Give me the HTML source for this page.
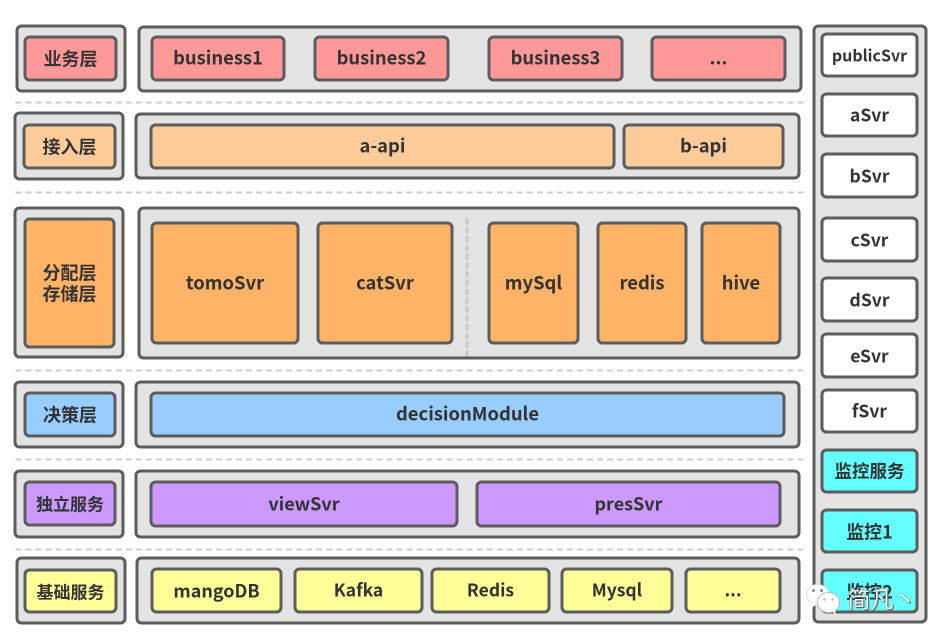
<!DOCTYPE html>
<html><head><meta charset="utf-8">
<style>
html,body{margin:0;padding:0;background:#fff}
body{position:relative;width:947px;height:641px;overflow:hidden;font-family:"Noto Sans CJK SC","Liberation Sans",sans-serif;font-weight:700;color:#333}
#w{position:absolute;left:0;top:0;width:948px;height:642px;transform:translate(-.5px,-.5px)}
.b{position:absolute;box-sizing:border-box;border:3px solid #5c5c5c;border-radius:6px;display:flex;align-items:center;justify-content:center;font-size:18.4px;line-height:1.15;text-align:center;white-space:nowrap}
.c{background:#e3e3e3}
.d{position:absolute;left:16px;width:788px;height:0;border-top:2px dashed #cdcdcd}
.r{background:#ff9999}.o{background:#ffcc99}.a{background:#ffb366}.u{background:#99ccff}.p{background:#cc99ff}.y{background:#ffff99}.w{background:#fff}.t{background:#66ffff}
.s{font-size:17.5px}
.k{font-size:18px}
.n{font-size:17px}
.v{padding-top:2px}
</style></head><body><div id="w">
<div class="b c" style="left:16px;top:25px;width:111px;height:68px"></div>
<div class="b c" style="left:138px;top:26px;width:665px;height:67px"></div>
<div class="b r k" style="left:24px;top:36px;width:94px;height:46px">业务层</div>
<div class="b r" style="left:151px;top:36px;width:135px;height:46px">business1</div>
<div class="b r" style="left:314px;top:36px;width:136px;height:46px">business2</div>
<div class="b r" style="left:488px;top:36px;width:136px;height:46px">business3</div>
<div class="b r" style="left:651px;top:36px;width:136px;height:46px">...</div>
<div class="d" style="top:102px"></div>

<div class="b c" style="left:14px;top:112px;width:111px;height:69px"></div>
<div class="b c" style="left:135px;top:113px;width:666px;height:67px"></div>
<div class="b o k" style="left:23px;top:124px;width:94px;height:46px">接入层</div>
<div class="b o" style="left:150px;top:124px;width:466px;height:46px">a-api</div>
<div class="b o" style="left:623px;top:124px;width:162px;height:46px">b-api</div>
<div class="d" style="top:192px"></div>

<div class="b c" style="left:14px;top:207px;width:111px;height:152px"></div>
<div class="b c" style="left:138px;top:207px;width:663px;height:153px"></div>
<div class="b a k" style="left:24px;top:218px;width:92px;height:131px">分配层<br>存储层</div>
<div class="b a" style="left:151px;top:222px;width:149px;height:123px">tomoSvr</div>
<div class="b a" style="left:317px;top:222px;width:137px;height:123px">catSvr</div>
<div style="position:absolute;left:466px;top:219px;height:138px;border-left:3px dashed #c8c8c8"></div>
<div class="b a" style="left:488px;top:222px;width:92px;height:123px">mySql</div>
<div class="b a" style="left:597px;top:222px;width:91px;height:123px">redis</div>
<div class="b a" style="left:701px;top:222px;width:81px;height:123px">hive</div>
<div class="d" style="top:370px"></div>

<div class="b c" style="left:14px;top:381px;width:111px;height:68px"></div>
<div class="b c" style="left:135px;top:381px;width:666px;height:68px"></div>
<div class="b u k" style="left:24px;top:392px;width:93px;height:46px">决策层</div>
<div class="b u" style="left:150px;top:392px;width:636px;height:46px">decisionModule</div>
<div class="d" style="top:459px"></div>

<div class="b c" style="left:14px;top:470px;width:111px;height:69px"></div>
<div class="b c" style="left:135px;top:470px;width:666px;height:69px"></div>
<div class="b p n" style="left:24px;top:481px;width:93px;height:46px">独立服务</div>
<div class="b p k" style="left:150px;top:481px;width:309px;height:47px">viewSvr</div>
<div class="b p k" style="left:476px;top:481px;width:306px;height:47px">presSvr</div>
<div class="d" style="top:549px"></div>

<div class="b c" style="left:16px;top:557px;width:111px;height:68px"></div>
<div class="b c" style="left:136px;top:557px;width:665px;height:68px"></div>
<div class="b y n" style="left:24px;top:569px;width:94px;height:45px">基础服务</div>
<div class="b y k" style="left:151px;top:568px;width:132px;height:46px">mangoDB</div>
<div class="b y s" style="left:294px;top:568px;width:130px;height:46px">Kafka</div>
<div class="b y s" style="left:431px;top:568px;width:120px;height:46px">Redis</div>
<div class="b y s" style="left:561px;top:568px;width:113px;height:46px">Mysql</div>
<div class="b y s" style="left:685px;top:568px;width:97px;height:46px">...</div>

<div class="b c" style="left:813px;top:25px;width:115px;height:599px"></div>
<div class="b w" style="left:821px;top:33px;width:98px;height:45px;font-size:16px">publicSvr</div>
<div class="b w s v" style="left:821px;top:93px;width:98px;height:45px">aSvr</div>
<div class="b w s v" style="left:821px;top:153px;width:98px;height:46px">bSvr</div>
<div class="b w s v" style="left:821px;top:217px;width:98px;height:46px">cSvr</div>
<div class="b w s v" style="left:821px;top:277px;width:98px;height:46px">dSvr</div>
<div class="b w s v" style="left:821px;top:333px;width:98px;height:46px">eSvr</div>
<div class="b w s v" style="left:821px;top:389px;width:98px;height:45px">fSvr</div>
<div class="b t s v" style="left:821px;top:449px;width:98px;height:45px">监控服务</div>
<div class="b t k v" style="left:821px;top:509px;width:98px;height:45px">监控1</div>
<div class="b t k v" style="left:821px;top:569px;width:98px;height:45px">监控2</div>

<svg style="position:absolute;left:803px;top:581px" width="44" height="36" viewBox="0 0 44 36">
<ellipse cx="15" cy="14" rx="11" ry="10" fill="#fff" stroke="#ddd"/>
<path d="M9 22l-1 6 6-4z" fill="#fff"/>
<ellipse cx="26" cy="22" rx="11" ry="10" fill="#fff" stroke="#bbb"/>
<path d="M30 30l3 5 0-6z" fill="#fff"/>
<circle cx="11" cy="10" r="1.3" fill="#666"/><circle cx="19" cy="10" r="1.3" fill="#666"/>
<circle cx="22" cy="19" r="1.2" fill="#7cc"/><circle cx="30" cy="19" r="1.2" fill="#7cc"/>
</svg>
<div style="position:absolute;left:848px;top:582px;font-size:23px;line-height:32px;font-weight:400;color:#fff;text-shadow:0 0 1px #333,1px 1px 1px #555;white-space:nowrap">简凡丶</div>
</div></body></html>
